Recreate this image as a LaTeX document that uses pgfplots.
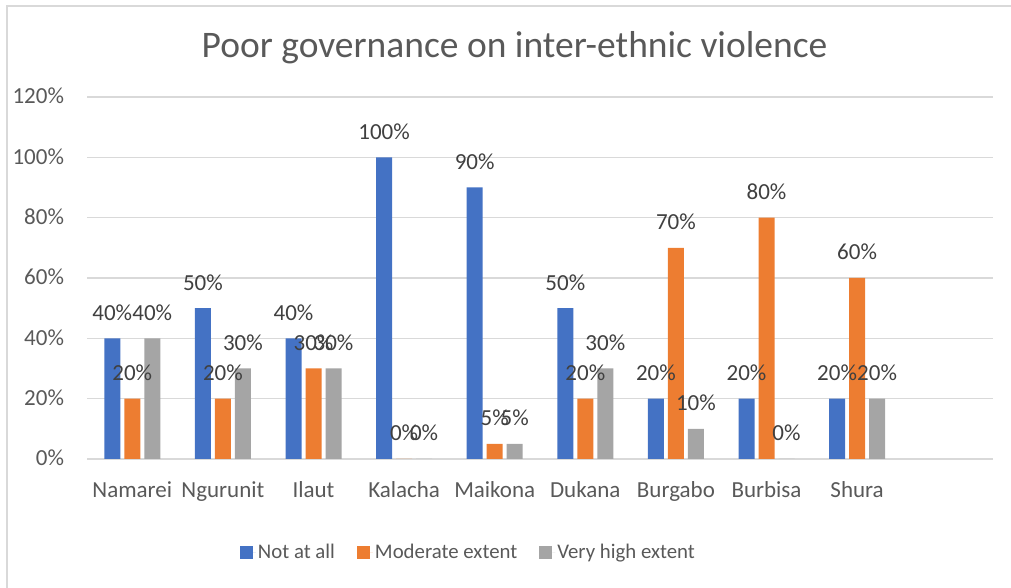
\documentclass[border=0pt]{standalone}
\usepackage{pgfplots}
\pgfplotsset{compat=1.18}
\usepackage{fontspec}
\setmainfont{Carlito}
\definecolor{cblue}{HTML}{4472C4}
\definecolor{corange}{HTML}{ED7D31}
\definecolor{cgray}{HTML}{A5A5A5}
\definecolor{gridc}{HTML}{D9D9D9}
\definecolor{txt}{HTML}{595959}
\definecolor{lbl}{HTML}{404040}
\begin{document}
\begin{tikzpicture}
\path[use as bounding box] (0,0) rectangle (1011pt,588pt);
\draw[gridc, line width=2pt] (7pt,0) -- (7pt,582pt) -- (1011pt,582pt);
\node[txt, font=\fontsize{37.5}{44}\selectfont] at (514.5pt,540pt) {Poor governance on inter-ethnic violence};
\begin{axis}[
  at={(87pt,129pt)}, anchor=south west, scale only axis,
  width=906pt, height=362pt,
  ybar=4pt, bar width=16pt,
  xmin=-0.5, xmax=9.5, ymin=0, ymax=120,
  xtick={0,...,8},
  xticklabels={Namarei,Ngurunit,Ilaut,Kalacha,Maikona,Dukana,Burgabo,Burbisa,Shura},
  ytick={0,20,...,120},
  yticklabels={0\%,20\%,40\%,60\%,80\%,100\%,120\%},
  axis lines*=left,
  y axis line style={draw=none},
  x axis line style={draw=gridc, line width=1.5pt},
  major tick length=0pt,
  ymajorgrids, grid style={gridc, line width=1.5pt},
  tick label style={txt, font=\fontsize{23}{27}\selectfont},
  xticklabel style={anchor=base, yshift=-39pt},
  yticklabel style={anchor=base east, xshift=-19.5pt, yshift=-7pt},
  /pgf/number format/assume math mode=true,
  nodes near coords={\pgfmathprintnumber{\pgfplotspointmeta}\%},
  nodes near coords style={lbl, font=\fontsize{23}{27}\selectfont, anchor=base, yshift=18pt},
  legend style={at={(0.421,-0.257)}, anchor=center, draw=none, legend columns=3,
    font=\fontsize{20.8}{24}\selectfont, text=txt,
    /tikz/every even column/.append style={column sep=20pt}},
]
\addplot[fill=cblue, draw=none, legend image code/.code={\fill[cblue] (0pt,-6.5pt) rectangle (13pt,6.5pt); \path (13pt,0pt) -- (16pt,0pt);}] coordinates {(0,40) (1,50) (2,40) (3,100) (4,90) (5,50) (6,20) (7,20) (8,20)};
\addplot[fill=corange, draw=none, legend image code/.code={\fill[corange] (0pt,-6.5pt) rectangle (13pt,6.5pt); \path (13pt,0pt) -- (16pt,0pt);}] coordinates {(0,20) (1,20) (2,30) (3,0) (4,5) (5,20) (6,70) (7,80) (8,60)};
\addplot[fill=cgray, draw=none, legend image code/.code={\fill[cgray] (0pt,-6.5pt) rectangle (13pt,6.5pt); \path (13pt,0pt) -- (16pt,0pt);}] coordinates {(0,40) (1,30) (2,30) (3,0) (4,5) (5,30) (6,10) (7,0) (8,20)};
\legend{Not at all, Moderate extent, Very high extent}
\end{axis}
\end{tikzpicture}
\end{document}
